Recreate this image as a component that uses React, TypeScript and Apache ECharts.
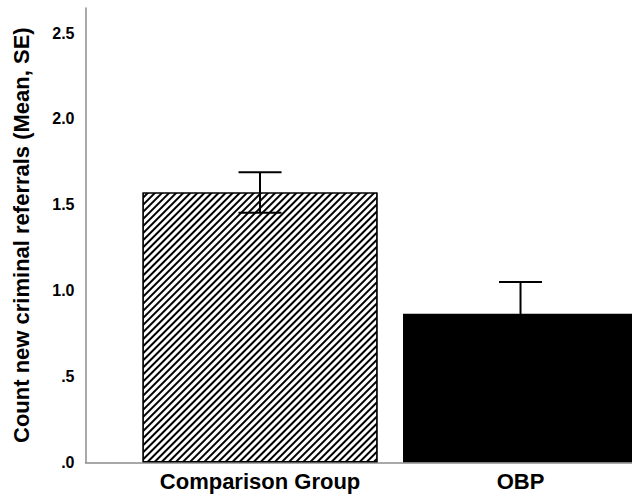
import React, { useEffect, useRef } from "react";
import * as echarts from "echarts";

const categories = ["Comparison Group", "OBP"];
const means = [1.572, 0.865];
const standardErrors = [0.118, 0.185];
const yTickValues = [0, 0.5, 1.0, 1.5, 2.0, 2.5];
const yTitle = "Count new criminal referrals (Mean, SE)";

const FONT = "Arial, 'Liberation Sans', Helvetica, sans-serif";

export default function App() {
  const ref = useRef<HTMLDivElement>(null);
  useEffect(() => {
    if (!ref.current) return;
    const chart = echarts.init(ref.current, null, { renderer: "svg" });
    const positions = categories.map((_, i) => i + 1);
    const barData = means.map((m, i) => {
      const base: any = { value: [positions[i], m] };
      if (i === 0) {
        base.itemStyle = {
          color: "#ffffff",
          borderColor: "#000000",
          borderWidth: 1.2,
          decal: {
            symbol: "rect",
            symbolSize: 1,
            color: "#000000",
            backgroundColor: "rgba(0,0,0,0)",
            dashArrayX: [1, 0],
            dashArrayY: [1.9, 2.5],
            rotation: -Math.PI / 4,
          },
        };
      } else {
        base.itemStyle = { color: "#000000" };
      }
      return base;
    });
    const errData = means.map((m, i) => [positions[i], m, standardErrors[i]]);
    chart.setOption({
      animation: false,
      backgroundColor: "#ffffff",
      grid: { left: 85.5, right: 0, top: 8, bottom: 34.7, containLabel: false },
      xAxis: {
        type: "value",
        min: 0.33,
        max: 2.428,
        axisLine: { show: true, onZero: false, lineStyle: { color: "#8c8c8c", width: 1.5 } },
        axisTick: { show: false },
        splitLine: { show: false },
        axisLabel: {
          customValues: positions,
          formatter: (v: number) => categories[Math.round(v) - 1] ?? "",
          color: "#000",
          fontFamily: FONT,
          fontWeight: "bold",
          fontSize: 22,
          margin: 8,
        },
      },
      yAxis: {
        type: "value",
        min: 0,
        max: 2.646,
        interval: 0.5,
        name: yTitle,
        nameLocation: "middle",
        nameGap: 53,
        nameRotate: 90,
        nameTextStyle: {
          color: "#000",
          fontFamily: FONT,
          fontWeight: "bold",
          fontSize: 22,
        },
        axisLine: { show: true, lineStyle: { color: "#8c8c8c", width: 1.5 } },
        axisTick: { show: false },
        splitLine: { show: false },
        axisLabel: {
          customValues: yTickValues,
          formatter: (v: number) => v.toFixed(1).replace(/^0/, ""),
          color: "#000",
          fontFamily: FONT,
          fontWeight: "bold",
          fontSize: 16,
          margin: 11,
        },
      },
      series: [
        {
          type: "bar",
          data: barData,
          barWidth: 235,
          clip: true,
        },
        {
          type: "custom",
          data: errData,
          z: 10,
          renderItem: (params: any, api: any) => {
            const x = api.value(0);
            const m = api.value(1);
            const s = api.value(2);
            const top = api.coord([x, m + s]);
            const bot = api.coord([x, m - s]);
            const half = 21.5;
            const style = { stroke: "#000000", lineWidth: 2 };
            return {
              type: "group",
              children: [
                { type: "line", shape: { x1: top[0], y1: top[1], x2: bot[0], y2: bot[1] }, style },
                { type: "line", shape: { x1: top[0] - half, y1: top[1], x2: top[0] + half, y2: top[1] }, style },
                { type: "line", shape: { x1: bot[0] - half, y1: bot[1], x2: bot[0] + half, y2: bot[1] }, style },
              ],
            };
          },
        },
      ],
    });
    return () => chart.dispose();
  }, []);
  return (
    <div
      ref={ref}
      style={{ position: "fixed", left: 0, top: 0, width: 632, height: 497, background: "#fff" }}
    />
  );
}
